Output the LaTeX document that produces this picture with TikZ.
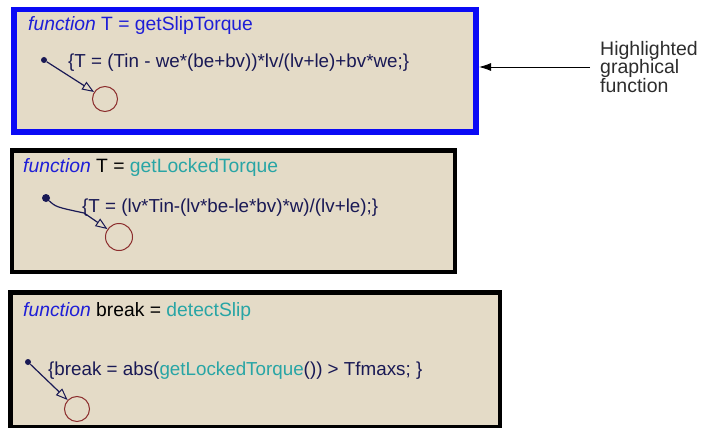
\documentclass[tikz,border=0pt]{standalone}
\usepackage{fontspec}
\setmainfont{Liberation Sans}
\usetikzlibrary{arrows.meta}
\definecolor{boxfill}{RGB}{228,219,199}
\definecolor{hiblue}{RGB}{10,10,245}
\definecolor{fnblue}{RGB}{30,30,215}
\definecolor{teal}{RGB}{40,165,165}
\definecolor{navy}{RGB}{25,25,85}
\definecolor{circred}{RGB}{140,45,45}
\definecolor{notegray}{RGB}{45,45,45}
\tikzset{
  fbox/.style={draw=black, line width=4.5pt, fill=boxfill},
  hibox/.style={draw=hiblue, line width=5.5pt, fill=boxfill},
  title/.style={anchor=base west, inner sep=0pt, font=\fontsize{19.3}{22}\selectfont},
  lbl/.style={anchor=base west, inner sep=0pt, text=navy, font=\fontsize{18.8}{22}\selectfont},
  dotnode/.style={circle, fill=navy, inner sep=0pt, minimum size=6pt},
  statecirc/.style={circle, draw=circred, line width=1pt, inner sep=0pt, minimum size=25pt},
  trans/.style={draw=navy, line width=1.2pt, -{Triangle[open, length=12pt, width=9pt, line width=1pt]}},
  note/.style={anchor=north west, inner sep=0pt, align=left, text=notegray, font=\fontsize{19.5}{18.5}\selectfont},
}
\begin{document}
\begin{tikzpicture}[x=1pt, y=-1pt]
\useasboundingbox (0,0) rectangle (702,428);
% box 1 (highlighted)
\draw[hibox] (14,9.5) rectangle (476,132);
\node[title] (t1) at (28,30.5) {\textcolor{fnblue}{\textit{function} T = getSlipTorque}};
\node[dotnode] (d1) at (44,60) {};
\node[statecirc] (c1) at (105,99) {};
\draw[trans] (d1) -- (c1);
\node[lbl] (l1) at (68,68) {\{T = (Tin - we*(be+bv))*lv/(lv+le)+bv*we;\}};
% box 2
\draw[fbox] (12,150.5) rectangle (455,272);
\node[title] (t2) at (23,172) {\textcolor{fnblue}{\textit{function}}\ T = \textcolor{teal}{getLockedTorque}};
\node[dotnode, minimum size=8pt] (d2) at (46,198) {};
\node[statecirc, minimum size=27pt] (c2) at (119,237) {};
\coordinate (k2) at (84,213);
\draw[trans] (d2) .. controls (56,207) .. (k2) -- (c2);
\node[lbl] (l2) at (82,212) {\{T = (lv*Tin-(lv*be-le*bv)*w)/(lv+le);\}};
% box 3
\draw[fbox] (10.5,292.5) rectangle (500,427);
\node[title] (t3) at (23,316) {\textcolor{fnblue}{\textit{function}}\ break = \textcolor{teal}{detectSlip}};
\node[dotnode] (d3) at (28,362) {};
\node[statecirc] (c3) at (77,409) {};
\draw[trans] (d3) -- (c3);
\node[lbl] (l3) at (48,375) {\{break = abs(\textcolor{teal}{getLockedTorque}()) > Tfmaxs; \}};
% annotation
\node[note] (n) at (600,41) {Highlighted\\graphical\\function};
\coordinate (tip) at (479,67);
\coordinate (nstart) at (590,67);
\draw[-{Latex[length=12pt, width=8pt]}, line width=0.9pt] (nstart) -- (tip);
\end{tikzpicture}
\end{document}
